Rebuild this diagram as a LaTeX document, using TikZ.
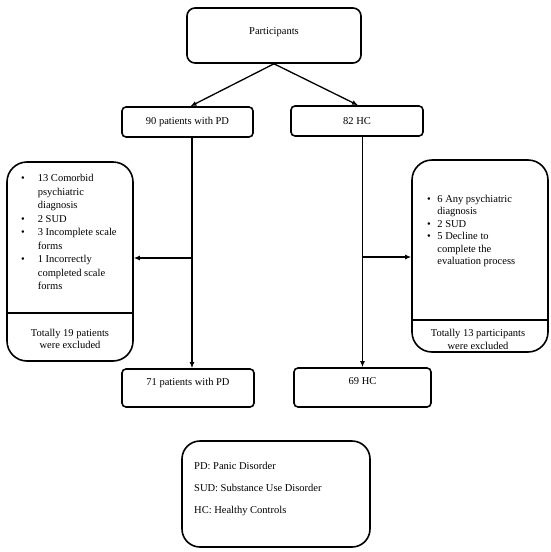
\documentclass[tikz,border=0pt]{standalone}
\usepackage{fontspec}
\setmainfont{Liberation Serif}
\usetikzlibrary{arrows.meta}

\begin{document}
\begin{tikzpicture}[x=1pt, y=-1pt, font=\fontsize{10.5}{13.5}\selectfont,
    box/.style={draw, line width=1.6pt, rounded corners=4pt, inner sep=0pt},
    bigbox/.style={draw, line width=1.6pt, rounded corners=20pt, inner sep=0pt},
    uptext/.style={text height=7pt, text depth=13pt},
    arr/.style={line width=1.3pt, -{Latex[length=6pt, width=5pt]}}]
    \useasboundingbox (0,0) rectangle (550,552);

    % top and first split
    \node[box, rounded corners=8pt, minimum width=174pt, minimum height=55pt,
          text height=7pt, text depth=10pt] (part) at (274,35.5) {Participants};
    \node[box, minimum width=131pt, minimum height=30pt] (pd90) at (187.5,122) {90 patients with PD};
    \node[box, minimum width=132pt, minimum height=30pt] (hc82) at (357,121) {82 HC};

    % final groups
    \node[box, uptext, minimum width=132pt, minimum height=38pt] (pd71) at (188,388) {71 patients with PD};
    \node[box, uptext, minimum width=137pt, minimum height=39pt] (hc69) at (362.5,387.5) {69 HC};

    % excluded
    \node[bigbox, minimum width=126pt, minimum height=199pt] (exPD) at (70,261.5) {};
    \node[bigbox, minimum width=136pt, minimum height=192pt] (exHC) at (480,256) {};
    \coordinate (divPD) at (0,313);
    \coordinate (divHC) at (0,320);
    \draw[line width=1.6pt] (exPD.west |- divPD) -- (exPD.east |- divPD);
    \draw[line width=1.6pt] (exHC.west |- divHC) -- (exHC.east |- divHC);

    \node[anchor=west, inner sep=0pt] (exPDlist) at (21,233) {%
        \begin{tabular}{@{}l@{\hspace{13pt}}l@{}}
            \textbullet & 13 Comorbid\\
                        & psychiatric\\
                        & diagnosis\\
            \textbullet & 2 SUD\\
            \textbullet & 3 Incomplete scale\\
                        & forms\\
            \textbullet & 1 Incorrectly\\
                        & completed scale\\
                        & forms
        \end{tabular}};
    \node[anchor=west, inner sep=0pt, font=\fontsize{10.5}{12.4}\selectfont] (exHClist) at (427,231) {%
        \begin{tabular}{@{}l@{\hspace{6.5pt}}l@{}}
            \textbullet & 6 Any psychiatric\\
                        & diagnosis\\
            \textbullet & 2 SUD\\
            \textbullet & 5 Decline to\\
                        & complete the\\
                        & evaluation process
        \end{tabular}};
    \node[align=center, font=\fontsize{10.5}{12.5}\selectfont] (exPDtot) at (70,339) {Totally 19 patients\\were excluded};
    \node[align=center, font=\fontsize{10.5}{12.5}\selectfont] (exHCtot) at (478,339.5) {Totally 13 participants\\were excluded};

    % legend
    \node[bigbox, rounded corners=18pt, minimum width=188pt, minimum height=106pt] (legend) at (276,494) {};
    \node[anchor=west, align=left, inner sep=0pt] (legtext) at (194,489)
        {PD: Panic Disorder\\[8.5pt]
         SUD: Substance Use Disorder\\[8.5pt]
         HC: Healthy Controls};

    % connectors
    \coordinate (splitPD) at (192,258);
    \coordinate (splitHC) at (362,257);
    \draw[arr] (part.south) -- ([xshift=3pt]pd90.north);
    \draw[arr] (part.south) -- ([xshift=1pt]hc82.north);
    \draw[arr] (splitPD |- pd90.south) -- (splitPD |- pd71.north);
    \draw[arr] (hc69.north |- hc82.south) -- (hc69.north);
    \draw[arr] (splitPD) -- (splitPD -| exPD.east);
    \draw[arr] (splitHC) -- (splitHC -| exHC.west);
\end{tikzpicture}
\end{document}
